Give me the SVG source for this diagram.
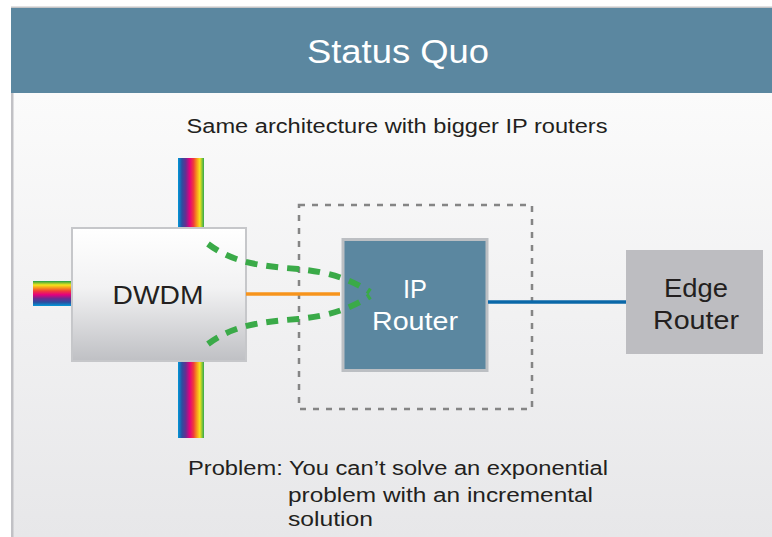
<svg xmlns="http://www.w3.org/2000/svg" width="772" height="537" viewBox="0 0 772 537">
<defs>
<linearGradient id="bg" x1="0" y1="0" x2="0" y2="1">
<stop offset="0" stop-color="#fbfbfb"/>
<stop offset="1" stop-color="#e7e7e9"/>
</linearGradient>
<linearGradient id="dwdmfill" x1="0" y1="0" x2="0" y2="1">
<stop offset="0" stop-color="#ffffff"/>
<stop offset="0.45" stop-color="#f2f2f3"/>
<stop offset="1" stop-color="#bfc0c4"/>
</linearGradient>
<linearGradient id="rainV" x1="0" y1="0" x2="1" y2="0">
<stop offset="0" stop-color="#0098d8"/>
<stop offset="0.15" stop-color="#2b4ea0"/>
<stop offset="0.3" stop-color="#6a2c91"/>
<stop offset="0.45" stop-color="#e4007e"/>
<stop offset="0.6" stop-color="#ef3e3a"/>
<stop offset="0.72" stop-color="#f7941d"/>
<stop offset="0.84" stop-color="#f5e51b"/>
<stop offset="1" stop-color="#2fa84f"/>
</linearGradient>
<linearGradient id="rainH" x1="0" y1="1" x2="0" y2="0">
<stop offset="0" stop-color="#0098d8"/>
<stop offset="0.15" stop-color="#2b4ea0"/>
<stop offset="0.3" stop-color="#6a2c91"/>
<stop offset="0.45" stop-color="#e4007e"/>
<stop offset="0.6" stop-color="#ef3e3a"/>
<stop offset="0.72" stop-color="#f7941d"/>
<stop offset="0.84" stop-color="#f5e51b"/>
<stop offset="1" stop-color="#1e9e4a"/>
</linearGradient>
</defs>
<style>
.t{font-family:"Liberation Sans","Open Sans",Arial,sans-serif;}
.dark{fill:#231f20;}
.green{fill:none;stroke:#3aaa48;stroke-width:6;stroke-dasharray:12 9;}
</style>
<rect x="0" y="0" width="772" height="537" fill="#ffffff"/>
<rect x="13" y="93" width="759" height="444" fill="url(#bg)"/>
<rect x="11" y="93" width="2.5" height="444" fill="#c1c1c5"/>
<rect x="11" y="6.5" width="761" height="1.5" fill="#c4c4c6"/>
<g id="header">
<rect x="11" y="8" width="761" height="85" fill="#5b87a0"/>
<text class="t" x="398" y="63" font-size="33" fill="#ffffff" text-anchor="middle" textLength="182" lengthAdjust="spacingAndGlyphs">Status Quo</text>
</g>
<text class="t dark" x="397" y="133" font-size="20" text-anchor="middle" textLength="421" lengthAdjust="spacingAndGlyphs">Same architecture with bigger IP routers</text>
<g id="fibers">
<rect x="178" y="158" width="26" height="70" fill="url(#rainV)"/>
<rect x="178" y="361" width="26" height="77" fill="url(#rainV)"/>
<rect x="33" y="281" width="38" height="25" fill="url(#rainH)"/>
</g>
<g id="dwdm">
<rect x="72" y="228" width="174" height="133" fill="url(#dwdmfill)" stroke="#c6c7ca" stroke-width="2"/>
<text class="t dark" x="158" y="304" font-size="26.5" text-anchor="middle" textLength="91" lengthAdjust="spacingAndGlyphs">DWDM</text>
</g>
<g id="ipbox">
<rect x="299" y="205" width="233" height="204" fill="none" stroke="#858585" stroke-width="2.5" stroke-dasharray="6 7"/>
</g>
<g id="iprouter">
<rect x="343" y="239.5" width="144" height="131" fill="#5b87a0" stroke="#bcbfc3" stroke-width="3"/>
<text class="t" x="415" y="298" font-size="26.5" fill="#ffffff" text-anchor="middle" textLength="24" lengthAdjust="spacingAndGlyphs">IP</text>
<text class="t" x="415" y="330" font-size="26.5" fill="#ffffff" text-anchor="middle" textLength="86" lengthAdjust="spacingAndGlyphs">Router</text>
</g>
<g id="edge">
<rect x="626" y="250" width="137" height="104" fill="#bdbdc1"/>
<text class="t dark" x="696" y="297" font-size="26.5" text-anchor="middle" textLength="64" lengthAdjust="spacingAndGlyphs">Edge</text>
<text class="t dark" x="696" y="329" font-size="26.5" text-anchor="middle" textLength="86" lengthAdjust="spacingAndGlyphs">Router</text>
</g>
<g id="connectors">
<line x1="246" y1="294" x2="340" y2="294" stroke="#f7941d" stroke-width="3.5"/>
<line x1="488" y1="302" x2="626" y2="302" stroke="#0a67a8" stroke-width="3.5"/>
<path class="green" d="M208,244 C232,262 258,266 298,269 C330,272 352,280 370,292"/>
<path class="green" d="M208,344 C232,326 258,322 298,319 C330,316 352,308 370,296"/>
</g>
<g id="problem" class="t dark" font-size="20">
<text x="188" y="475" textLength="420" lengthAdjust="spacingAndGlyphs">Problem: You can’t solve an exponential</text>
<text x="288" y="502" textLength="305" lengthAdjust="spacingAndGlyphs">problem with an incremental</text>
<text x="288" y="526" textLength="85" lengthAdjust="spacingAndGlyphs">solution</text>
</g>
</svg>
